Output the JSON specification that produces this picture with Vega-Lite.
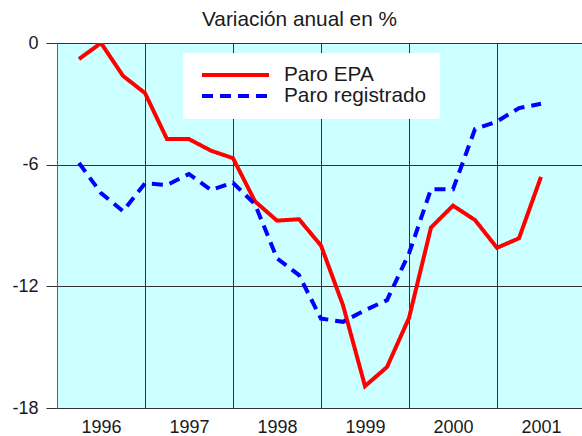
{
  "$schema": "https://vega.github.io/schema/vega-lite/v6.json",
  "width": 525,
  "height": 365,
  "autosize": {"type": "none"},
  "padding": {"left": 57, "top": 43, "right": 0, "bottom": 28},
  "background": "white",
  "config": {
    "font": "Liberation Sans",
    "view": {"fill": "#ccffff", "stroke": null}
  },
  "title": {
    "text": "Variación anual en %",
    "fontSize": 20.8,
    "fontWeight": "normal",
    "font": "Liberation Sans",
    "color": "#1a1a1a",
    "anchor": "middle",
    "offset": 3,
    "dx": -20
  },
  "data": {
    "values": [
      {"t": 1996.25, "serie": "Paro EPA", "v": -0.79},
      {"t": 1996.5, "serie": "Paro EPA", "v": 0},
      {"t": 1996.75, "serie": "Paro EPA", "v": -1.62},
      {"t": 1997.0, "serie": "Paro EPA", "v": -2.47},
      {"t": 1997.25, "serie": "Paro EPA", "v": -4.74},
      {"t": 1997.5, "serie": "Paro EPA", "v": -4.74},
      {"t": 1997.75, "serie": "Paro EPA", "v": -5.31},
      {"t": 1998.0, "serie": "Paro EPA", "v": -5.68},
      {"t": 1998.25, "serie": "Paro EPA", "v": -7.81},
      {"t": 1998.5, "serie": "Paro EPA", "v": -8.76},
      {"t": 1998.75, "serie": "Paro EPA", "v": -8.69},
      {"t": 1999.0, "serie": "Paro EPA", "v": -9.99},
      {"t": 1999.25, "serie": "Paro EPA", "v": -12.93},
      {"t": 1999.5, "serie": "Paro EPA", "v": -16.92},
      {"t": 1999.75, "serie": "Paro EPA", "v": -15.98},
      {"t": 2000.0, "serie": "Paro EPA", "v": -13.56},
      {"t": 2000.25, "serie": "Paro EPA", "v": -9.1},
      {"t": 2000.5, "serie": "Paro EPA", "v": -8.02},
      {"t": 2000.75, "serie": "Paro EPA", "v": -8.73},
      {"t": 2001.0, "serie": "Paro EPA", "v": -10.1},
      {"t": 2001.25, "serie": "Paro EPA", "v": -9.63},
      {"t": 2001.5, "serie": "Paro EPA", "v": -6.6},
      {"t": 1996.25, "serie": "Paro registrado", "v": -5.92},
      {"t": 1996.5, "serie": "Paro registrado", "v": -7.4},
      {"t": 1996.75, "serie": "Paro registrado", "v": -8.29},
      {"t": 1997.0, "serie": "Paro registrado", "v": -6.92},
      {"t": 1997.25, "serie": "Paro registrado", "v": -7.0},
      {"t": 1997.5, "serie": "Paro registrado", "v": -6.46},
      {"t": 1997.75, "serie": "Paro registrado", "v": -7.25},
      {"t": 1998.0, "serie": "Paro registrado", "v": -6.89},
      {"t": 1998.25, "serie": "Paro registrado", "v": -7.95},
      {"t": 1998.5, "serie": "Paro registrado", "v": -10.62},
      {"t": 1998.75, "serie": "Paro registrado", "v": -11.45},
      {"t": 1999.0, "serie": "Paro registrado", "v": -13.59},
      {"t": 1999.25, "serie": "Paro registrado", "v": -13.75},
      {"t": 1999.5, "serie": "Paro registrado", "v": -13.18},
      {"t": 1999.75, "serie": "Paro registrado", "v": -12.68},
      {"t": 2000.0, "serie": "Paro registrado", "v": -10.38},
      {"t": 2000.25, "serie": "Paro registrado", "v": -7.21},
      {"t": 2000.5, "serie": "Paro registrado", "v": -7.21},
      {"t": 2000.75, "serie": "Paro registrado", "v": -4.25},
      {"t": 2001.0, "serie": "Paro registrado", "v": -3.87},
      {"t": 2001.25, "serie": "Paro registrado", "v": -3.21},
      {"t": 2001.5, "serie": "Paro registrado", "v": -3.0}
    ]
  },
  "mark": {"type": "line", "strokeWidth": 4, "clip": true},
  "encoding": {
    "x": {
      "field": "t",
      "type": "quantitative",
      "scale": {"domain": [1996, 2001.966], "nice": false, "zero": false},
      "axis": {
        "title": null,
        "values": [1996, 1997, 1998, 1999, 2000, 2001],
        "format": "d",
        "labelOffset": 44,
        "labelOverlap": false,
        "labelBound": false,
        "labelFlush": false,
        "labelFontSize": 18,
        "labelColor": "#1a1a1a",
        "labelPadding": 10,
        "ticks": false,
        "domain": false,
        "grid": true,
        "gridColor": "#333333",
        "gridOpacity": 1,
        "gridWidth": 1
      }
    },
    "y": {
      "field": "v",
      "type": "quantitative",
      "scale": {"domain": [-18, 0], "nice": false, "zero": false},
      "axis": {
        "title": null,
        "values": [-18, -12, -6, 0],
        "labelExpr": "'' + datum.value",
        "labelFontSize": 18,
        "labelColor": "#1a1a1a",
        "labelPadding": 8,
        "tickSize": 11,
        "tickColor": "#333333",
        "domain": true,
        "domainColor": "#666666",
        "grid": true,
        "gridColor": "#333333",
        "gridOpacity": 1
      }
    },
    "color": {
      "field": "serie",
      "type": "nominal",
      "scale": {"domain": ["Paro EPA", "Paro registrado"], "range": ["#ff0000", "#0000ff"]},
      "legend": {
        "title": null,
        "orient": "none",
        "legendX": 126,
        "legendY": 10,
        "fillColor": "white",
        "padding": 13,
        "symbolType": "stroke",
        "symbolSize": 4489,
        "symbolStrokeWidth": 4,
        "symbolOffset": 4,
        "clipHeight": 18,
        "labelFontSize": 20.8,
        "labelColor": "#1a1a1a",
        "labelOffset": 13,
        "rowPadding": 0
      }
    },
    "strokeDash": {
      "field": "serie",
      "type": "nominal",
      "scale": {"domain": ["Paro EPA", "Paro registrado"], "range": [[1, 0], [11, 7]]},
      "legend": {
        "title": null,
        "orient": "none",
        "legendX": 126,
        "legendY": 10,
        "fillColor": "white",
        "padding": 13,
        "symbolType": "stroke",
        "symbolSize": 4489,
        "symbolStrokeWidth": 4,
        "symbolOffset": 4,
        "clipHeight": 18,
        "labelFontSize": 20.8,
        "labelColor": "#1a1a1a",
        "labelOffset": 13,
        "rowPadding": 0
      }
    }
  }
}
